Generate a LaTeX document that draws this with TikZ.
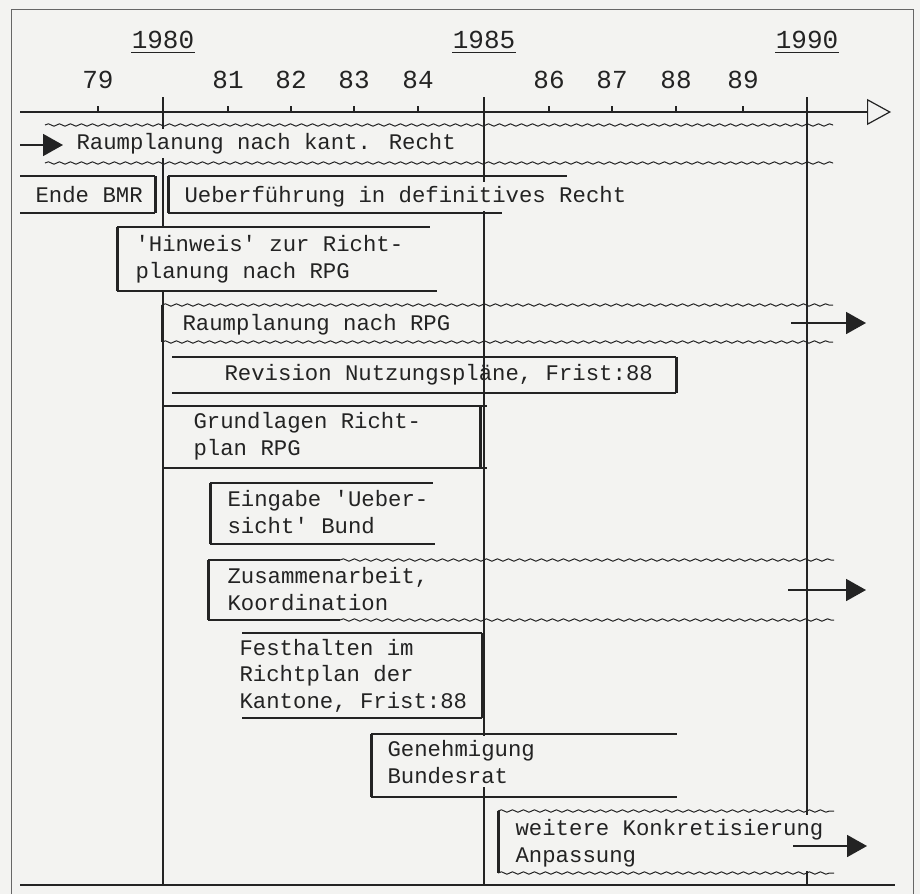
\documentclass[tikz,border=0pt]{standalone}
\usepackage{fontspec}
\newfontfamily\typewriter{Liberation Mono}
\usetikzlibrary{arrows.meta,decorations.pathmorphing}
\definecolor{paper}{RGB}{243,243,241}
\definecolor{ink}{RGB}{35,35,35}

\begin{document}
\begin{tikzpicture}[x=1pt,y=-1pt]
    \tikzstyle{every path}=[line width=1.2pt,color=ink]

    \tikzstyle{yearlabel}=[anchor=base,inner sep=0pt,
                           font=\typewriter\fontsize{26}{30}\selectfont]
    % multi-line texts sit on the baseline of their last line
    \tikzstyle{bartext}=[anchor=base west,align=left,fill=paper,
                         inner xsep=0pt,inner ysep=4pt,
                         font=\typewriter\fontsize{22.3}{26.5}\selectfont]
    \tikzstyle{bar}=[line width=1.7pt]
    \tikzstyle{barend}=[line width=3pt]
    \tikzstyle{wave}=[line width=1pt,decorate,
                      decoration={snake,amplitude=1.2pt,segment length=11pt}]
    \tikzstyle{goon}=[line width=1.8pt,-{Triangle[length=20pt,width=22pt]}]

    \useasboundingbox (0,0) rectangle (920,894);
    \fill[paper] (0,0) rectangle (920,894);

    % Frame
    \draw[black!60,line width=1pt] (11,894) -- (11,9) -- (913,9) -- (913,894);

    % Draw full years, lines down to the bottom
    \foreach \x/\yr in {163/1980,484/1985,807/1990}{
        \draw (\x,97) -- (\x,885);
        \node[yearlabel,inner ysep=4pt] (y\yr) at (\x,48) {\yr};
        \draw (y\yr.south west) -- (y\yr.south east);
    }

    % Draw time axis
    \draw[-{Triangle[open,length=24pt,width=26pt]}] (20,112) -- (891,112);
    \foreach \x/\yr in {98/79,228/81,291/82,354/83,418/84,549/86,612/87,676/88,743/89}{
        \draw (\x,106) -- (\x,112);
        \node[yearlabel] (y\yr) at (\x,88) {\yr};
    }
    \draw (20,885) -- (895,885);

    % Raumplanung nach kantonalem Recht
    \node[bartext] (kant) at (76,149) {Raumplanung nach kant. Recht};
    \draw[wave] (45,125) -- (833,125);
    \draw[wave] (45,163) -- (833,163);
    \coordinate (kantfrom) at (20,145);
    \coordinate (kantto) at (63,145);
    \draw[goon] (kantfrom) -- (kantto);

    % Ende BMR and Ueberfuehrung
    \node[bartext] (bmr) at (35,202) {Ende BMR};
    \draw[bar] (20,176) -- (155,176);
    \draw[bar] (20,213) -- (155,213);
    \draw[barend] (155,176) -- (155,213);
    \node[bartext] (ueber) at (184,202) {Ueberführung in definitives Recht};
    \draw[barend] (168,176) -- (168,213);
    \draw[bar] (168,176) -- (567,176);
    \draw[bar] (168,213) -- (502,213);

    % Hinweis
    \node[bartext,inner ysep=7pt] (hinweis) at (135,278) {'Hinweis' zur Richt-\\planung nach RPG};
    \draw[barend] (117,227) -- (117,291);
    \draw[bar] (117,227) -- (430,227);
    \draw[bar] (117,291) -- (437,291);

    % Raumplanung nach RPG
    \node[bartext] (rpg) at (182,330) {Raumplanung nach RPG};
    \draw[barend] (162,305) -- (162,342);
    \draw[wave] (162,305) -- (833,305);
    \draw[wave] (162,342) -- (833,342);
    \coordinate (rpgfrom) at (791,323);
    \coordinate (rpgto) at (866,323);
    \draw[goon] (rpgfrom) -- (rpgto);

    % Revision
    \node[bartext,fill=none] (revision) at (224,380) {Revision Nutzungspläne, Frist:88};
    \draw[bar] (172,357) -- (676,357);
    \draw[bar] (172,393) -- (676,393);
    \draw[barend] (676,357) -- (676,393);

    % Grundlagen
    \node[bartext] (grundlagen) at (193,455) {Grundlagen Richt-\\plan RPG};
    \draw[bar] (163,406) -- (487,406);
    \draw[bar] (163,468) -- (487,468);
    \draw[barend] (480,406) -- (480,468);

    % Eingabe
    \node[bartext] (eingabe) at (227,533) {Eingabe 'Ueber-\\sicht' Bund};
    \draw[barend] (210,483) -- (210,544);
    \draw[bar] (210,483) -- (433,483);
    \draw[bar] (210,544) -- (435,544);

    % Zusammenarbeit
    \node[bartext] (zusammen) at (227,610) {Zusammenarbeit,\\Koordination};
    \draw[barend] (208,560) -- (208,620);
    \draw[bar] (208,560) -- (340,560);
    \draw[bar] (208,620) -- (340,620);
    \draw[wave] (340,560) -- (834,560);
    \draw[wave] (340,620) -- (834,620);
    \coordinate (zusfrom) at (788,590);
    \coordinate (zusto) at (866,590);
    \draw[goon] (zusfrom) -- (zusto);

    % Festhalten
    \node[bartext] (festhalten) at (239,708) {Festhalten im\\Richtplan der\\Kantone, Frist:88};
    \draw[bar] (242,633) -- (482,633);
    \draw[bar] (242,718) -- (482,718);
    \draw[barend] (482,633) -- (482,718);

    % Genehmigung
    \node[bartext] (genehmigung) at (387,783) {Genehmigung\\Bundesrat};
    \draw[barend] (371,734) -- (371,797);
    \draw[bar] (371,734) -- (677,734);
    \draw[bar] (371,797) -- (677,797);

    % weitere Konkretisierung
    \node[bartext] (weitere) at (515,862) {weitere Konkretisierung\\Anpassung};
    \draw[barend] (498,811) -- (498,873);
    \draw[wave] (498,811) -- (834,811);
    \draw[wave] (498,873) -- (834,873);
    \coordinate (weitfrom) at (793,846);
    \coordinate (weitto) at (867,846);
    \draw[goon] (weitfrom) -- (weitto);
\end{tikzpicture}
\end{document}
